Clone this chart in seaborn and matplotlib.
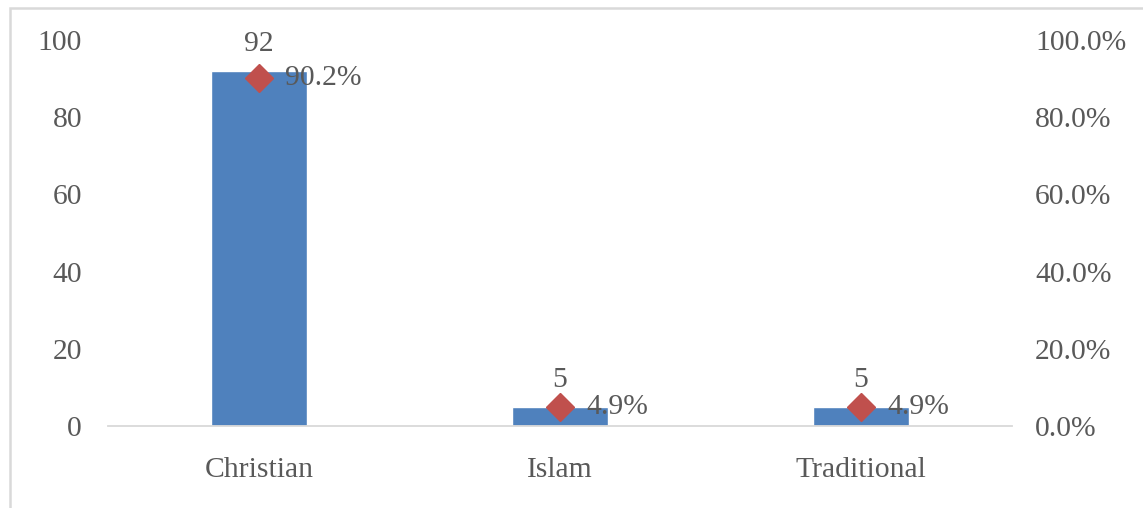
import matplotlib
matplotlib.use("Agg")
import matplotlib.pyplot as plt
import seaborn as sns
import pandas as pd
import numpy as np
from matplotlib.patches import Rectangle

categories = ["Christian", "Islam", "Traditional"]
counts = [92, 5, 5]
percents = [0.902, 0.049, 0.049]
left_ticks = [0, 20, 40, 60, 80, 100]
right_ticks = [0.0, 0.2, 0.4, 0.6, 0.8, 1.0]

sns.set_theme(style="white")
plt.rcParams['font.family'] = ['Liberation Serif', 'DejaVu Serif']

TEXT = "#595959"
BLUE = "#4F81BD"
RED = "#C0504D"
GRID = "#D9D9D9"
FS = 21.3

fig = plt.figure(figsize=(11.43, 5.08), dpi=100)
ax = fig.add_axes([0.0949, 0.1614, 0.7901, 0.7599])

df = pd.DataFrame({"cat": categories, "count": counts})
sns.barplot(data=df, x="cat", y="count", color=BLUE, width=0.316,
            saturation=1, ax=ax)
ax.set_xlim(-0.5, 2.5)
ax.set_ylim(0, 100)
ax.set_yticks(left_ticks)
ax.set_xlabel("")
ax.set_ylabel("")
for s in ["top", "right", "left"]:
    ax.spines[s].set_visible(False)
ax.spines["bottom"].set_color(GRID)
ax.spines["bottom"].set_linewidth(1.3)
ax.tick_params(axis="both", length=0, colors=TEXT, labelsize=FS)
ax.tick_params(axis="x", pad=22)
ax.tick_params(axis="y", pad=19)

ax2 = ax.twinx()
xpos = np.arange(len(categories))
ax2.plot(xpos, percents, linestyle="none", marker="D", markersize=14.5,
         color=RED, zorder=5)
ax2.set_ylim(0, 1)
ax2.set_yticks(right_ticks)
ax2.set_yticklabels([f"{v*100:.1f}%" for v in right_ticks])
for s in ["top", "right", "left", "bottom"]:
    ax2.spines[s].set_visible(False)
ax2.tick_params(axis="y", length=0, colors=TEXT, labelsize=FS, pad=17)
ax2.grid(False)
ax.grid(False)

for i, (c, p) in enumerate(zip(counts, percents)):
    ax.annotate(f"{c}", (i, c), xytext=(0, 10), textcoords="offset points",
                ha="center", va="bottom", fontsize=FS, color=TEXT)
    ax2.annotate(f"{p*100:.1f}%", (i, p), xytext=(19, 0),
                 textcoords="offset points", ha="left", va="center",
                 fontsize=FS, color=TEXT, zorder=6)

# chart-area frame: only left and top edges fall inside the image
fig.patches.append(Rectangle((9.5 / 1143, -0.1), 1.2, (508 - 8.5) / 508 + 0.1,
                             transform=fig.transFigure, fill=False,
                             edgecolor=GRID, linewidth=1.8))

fig.savefig("out.png", dpi=100)
